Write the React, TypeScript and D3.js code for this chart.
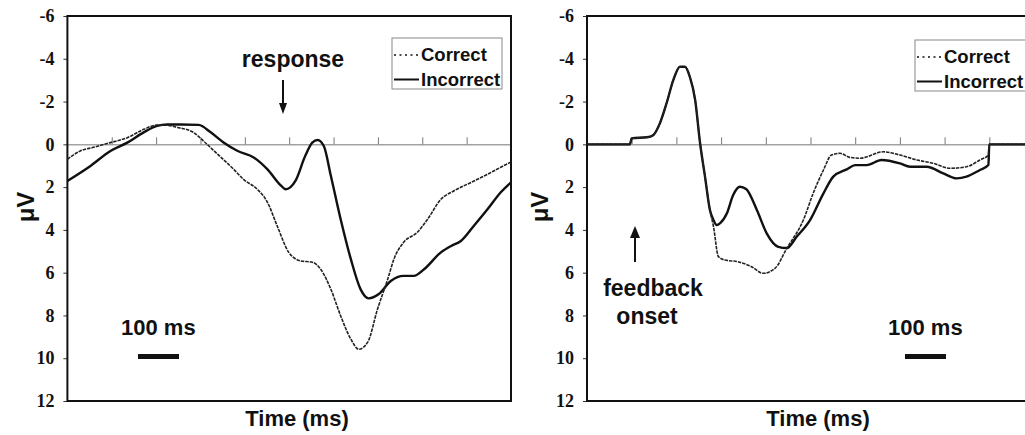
import { useEffect, useRef } from 'react';
import * as d3 from 'd3';

// response-locked panel (ms relative to response, µV)
const respCorrectT = [-500, -471, -441, -403, -365, -328, -298, -275, -252, -216, -193, -161, -125, -103, -72, -49, -27, -1, 26, 52, 71, 94, 116, 139, 157, 177, 199, 222, 236, 258, 289, 312, 342, 371, 410, 447, 477, 500];
const respCorrectV = [0.70, 0.31, 0.14, -0.08, -0.31, -0.70, -0.90, -0.89, -0.79, -0.56, -0.15, 0.47, 1.17, 1.64, 2.10, 2.71, 3.82, 5.05, 5.45, 5.51, 5.84, 6.78, 8.02, 9.11, 9.58, 9.25, 7.71, 6.31, 5.37, 4.58, 4.11, 3.50, 2.57, 2.18, 1.78, 1.40, 1.07, 0.83];
const respIncorrectT = [-500, -448, -403, -365, -328, -298, -275, -245, -204, -177, -148, -116, -80, -49, -19, -8, 3, 14, 36, 52, 64, 78, 94, 116, 139, 161, 179, 202, 229, 258, 281, 304, 342, 365, 387, 416, 447, 477, 500];
const respIncorrectV = [1.71, 1.01, 0.31, -0.08, -0.56, -0.86, -0.93, -0.93, -0.91, -0.56, -0.09, 0.31, 0.61, 1.17, 1.92, 2.10, 2.00, 1.71, 0.55, -0.08, -0.20, 0.08, 1.48, 3.50, 5.37, 6.78, 7.20, 7.00, 6.39, 6.15, 6.15, 5.84, 5.05, 4.75, 4.52, 3.82, 3.04, 2.24, 1.78];

// feedback-locked panel
const fbCorrectT = [-100, -4, 0, 34, 48, 63, 78, 93, 108, 119, 130, 142, 153, 164, 175, 183, 194, 209, 238, 268, 294, 321, 347, 384, 406, 429, 447, 466, 488, 511, 563, 600, 638, 675, 712, 749, 779, 798, 800, 900];
const fbCorrectV = [0, 0, -0.28, -0.33, -0.43, -0.98, -1.92, -3.0, -3.63, -3.63, -3.16, -2.07, -0.05, 1.51, 3.07, 3.85, 5.25, 5.41, 5.49, 5.72, 6.03, 5.79, 4.86, 3.54, 2.29, 1.20, 0.50, 0.42, 0.61, 0.65, 0.35, 0.50, 0.73, 0.89, 1.12, 1.05, 0.73, 0.50, 0, 0];
const fbIncorrectT = [-100, -4, 0, 34, 48, 63, 78, 93, 108, 119, 130, 142, 153, 164, 175, 183, 190, 198, 213, 227, 242, 256, 280, 302, 328, 347, 369, 399, 429, 451, 481, 500, 526, 559, 600, 623, 660, 697, 727, 749, 779, 798, 800, 900];
const fbIncorrectV = [0, 0, -0.28, -0.33, -0.43, -0.98, -1.92, -3.0, -3.63, -3.63, -3.16, -2.07, -0.05, 1.51, 3.07, 3.54, 3.77, 3.68, 3.22, 2.37, 1.98, 2.09, 3.07, 4.16, 4.79, 4.85, 4.32, 3.54, 2.29, 1.51, 1.17, 0.97, 0.97, 0.73, 0.89, 1.05, 1.05, 1.36, 1.59, 1.51, 1.20, 0.97, 0, 0];

const yTicks = [-6, -4, -2, 0, 2, 4, 6, 8, 10, 12];
const seriesNames = ['Correct', 'Incorrect'];

const SANS = '"Liberation Sans", Arial, sans-serif';
const SERIF = '"Liberation Serif", "Times New Roman", "DejaVu Serif", serif';

type Pt = [number, number];
const zip = (t: number[], v: number[]): Pt[] => t.map((d, i) => [d, v[i]]);

export default function App() {
  const svgRef = useRef<SVGSVGElement>(null);

  useEffect(() => {
    if (!svgRef.current) return;
    const svg = d3.select(svgRef.current);
    svg.selectAll('*').remove();

    const panels = [
      {
        domain: [-500, 500], range: [67.4, 511], ticks: d3.range(-400, 401, 100),
        correct: zip(respCorrectT, respCorrectV), incorrect: zip(respIncorrectT, respIncorrectV),
        ylabX: 26, titleX: 297, legend: { x: 392, y: 38, w: 110 }, bar: { x: 138, label: 121 },
      },
      {
        domain: [-100, 900], range: [587, 1034], ticks: d3.range(0, 801, 100),
        correct: zip(fbCorrectT, fbCorrectV), incorrect: zip(fbIncorrectT, fbIncorrectV),
        ylabX: 540, titleX: 818, legend: { x: 915, y: 40, w: 130 }, bar: { x: 905, label: 888 },
      },
    ];

    panels.forEach((p, pi) => {
      const x = d3.scaleLinear().domain(p.domain).range(p.range);
      const y = d3.scaleLinear().domain([-6, 12]).range([16, 401]);
      const g = svg.append('g');

      // zero line with upward ticks
      const zero = g.append('g')
        .attr('transform', `translate(0,${y(0)})`)
        .call(d3.axisTop(x).tickValues(p.ticks).tickSize(7).tickFormat(() => '').tickSizeOuter(0));
      zero.selectAll('path, line').attr('stroke', '#777').attr('stroke-width', 1);

      // y axis (plain hyphen for negatives, bold serif like the original)
      const ya = g.append('g')
        .attr('transform', `translate(${p.range[0]},0)`)
        .call(d3.axisLeft(y).tickValues(yTicks).tickSize(4).tickPadding(9).tickSizeOuter(0)
          .tickFormat(d => String(d)));
      ya.attr('font-family', SERIF).attr('font-size', 18).attr('font-weight', 'bold');
      ya.select('.domain').remove();
      ya.selectAll('line').attr('stroke', '#333');
      ya.selectAll('text')
        .attr('font-family', SERIF)
        .attr('font-weight', 'bold')
        .attr('font-size', 18)
        .attr('fill', '#111');

      // box
      g.append('rect')
        .attr('x', p.range[0]).attr('y', y(-6))
        .attr('width', p.range[1] - p.range[0]).attr('height', y(12) - y(-6))
        .attr('fill', 'none').attr('stroke', '#111').attr('stroke-width', 2);

      const line = d3.line<Pt>()
        .x(d => x(d[0]))
        .y(d => y(d[1]))
        .curve(d3.curveMonotoneX);

      g.append('path').datum(p.incorrect)
        .attr('fill', 'none').attr('stroke', '#111').attr('stroke-width', 2.4)
        .attr('d', line);
      g.append('path').datum(p.correct)
        .attr('fill', 'none').attr('stroke', '#222').attr('stroke-width', 1.6)
        .attr('stroke-dasharray', '3.5,1')
        .attr('d', line);

      // legend
      const lg = g.append('g').attr('transform', `translate(${p.legend.x},${p.legend.y})`);
      lg.append('rect').attr('width', p.legend.w).attr('height', 51)
        .attr('fill', '#fff').attr('stroke', '#888').attr('stroke-width', 1);
      seriesNames.forEach((name, i) => {
        const ly = 17 + i * 24.5;
        lg.append('line').attr('x1', 2).attr('x2', 27).attr('y1', ly).attr('y2', ly)
          .attr('stroke', '#111').attr('stroke-width', i === 0 ? 1.6 : 2)
          .attr('stroke-dasharray', i === 0 ? '2,3.5' : null);
        lg.append('text').attr('x', 29).attr('y', ly + 6)
          .style('font-family', SANS).style('font-weight', 'bold').style('font-size', '18.5px')
          .attr('fill', '#111').text(name);
      });

      // axis titles
      g.append('text').attr('x', p.titleX).attr('y', 426).attr('text-anchor', 'middle')
        .style('font-family', SANS).style('font-weight', 'bold').style('font-size', '22px')
        .attr('fill', '#111').text('Time (ms)');
      g.append('text')
        .attr('transform', `translate(${p.ylabX + 8},207) rotate(-90)`)
        .attr('text-anchor', 'middle')
        .style('font-family', SANS).style('font-weight', 'bold').style('font-size', '24px')
        .attr('fill', '#111').text('μV');

      // 100 ms scale bar
      g.append('text').attr('x', p.bar.label).attr('y', 335)
        .style('font-family', SANS).style('font-weight', 'bold').style('font-size', '22px')
        .attr('fill', '#111').text('100 ms');
      g.append('rect').attr('x', p.bar.x).attr('y', 354).attr('width', 41).attr('height', 5).attr('fill', '#111');

      // event markers
      if (pi === 0) {
        g.append('text').attr('x', 293).attr('y', 66.5).attr('text-anchor', 'middle')
          .style('font-family', SANS).style('font-weight', 'bold').style('font-size', '23px')
          .attr('fill', '#111').text('response');
        const ax = 283;
        g.append('line').attr('x1', ax).attr('x2', ax).attr('y1', 80).attr('y2', 105)
          .attr('stroke', '#111').attr('stroke-width', 2);
        g.append('path').attr('d', `M${ax - 4},103 L${ax + 4},103 L${ax},114 Z`).attr('fill', '#111');
      } else {
        [['feedback', 653, 296], ['onset', 647, 324]].forEach(([t, tx, ty]) => {
          g.append('text').attr('x', tx as number).attr('y', ty as number).attr('text-anchor', 'middle')
            .style('font-family', SANS).style('font-weight', 'bold').style('font-size', '23px')
            .attr('fill', '#111').text(t as string);
        });
        const ax = 635;
        g.append('line').attr('x1', ax).attr('x2', ax).attr('y1', 262).attr('y2', 236)
          .attr('stroke', '#111').attr('stroke-width', 2);
        g.append('path').attr('d', `M${ax - 5},238 L${ax + 5},238 L${ax},226 Z`).attr('fill', '#111');
      }
    });
  }, []);

  return (
    <div style={{ position: 'absolute', left: 0, top: 0 }}>
      <svg ref={svgRef} width={1025} height={435} style={{ display: 'block', background: '#fff' }} />
    </div>
  );
}
